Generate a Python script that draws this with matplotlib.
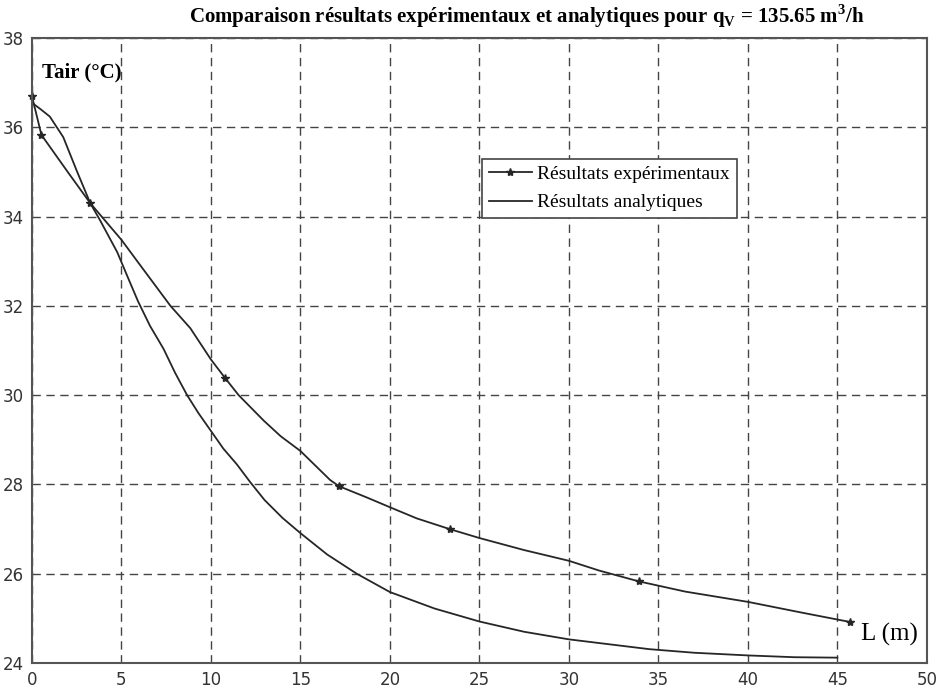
import matplotlib
matplotlib.use('Agg')
import matplotlib.pyplot as plt

# Experimental measurements (markers)
L_exp = [0.0, 0.53, 3.26, 10.8, 17.16, 23.34, 33.9, 45.7]
T_exp = [36.7, 35.83, 34.3, 30.38, 27.96, 27.0, 25.83, 24.92]

# Experimental curve as traced on the original figure
L_exp_curve = [0.0, 0.53, 2.0, 3.26, 5.0, 6.07, 7.74, 8.85, 10.0, 10.8, 11.55,
               12.95, 13.9, 15.0, 16.66, 17.16, 18.7, 20.0, 21.5, 23.34, 25.0,
               27.5, 30.0, 31.7, 33.9, 36.5, 40.0, 43.0, 45.7]
T_exp_curve = [36.7, 35.83, 35.0, 34.3, 33.48, 32.9, 32.0, 31.5, 30.8, 30.38, 30.0,
               29.43, 29.08, 28.75, 28.1, 27.96, 27.71, 27.49, 27.24, 27.0, 26.8,
               26.53, 26.29, 26.07, 25.83, 25.6, 25.37, 25.13, 24.92]

# Analytical curve
L_ana = [0.0, 0.5, 1.0, 1.75, 2.5, 3.26, 3.83, 4.77, 5.4, 5.93, 6.6, 7.35, 8.0,
         8.67, 9.3, 10.0, 10.7, 11.45, 12.2, 13.0, 14.0, 15.0, 16.5, 18.15, 20.0,
         22.5, 25.0, 27.5, 30.0, 34.5, 37.0, 40.0, 42.6, 45.0]
T_ana = [36.55, 36.4, 36.24, 35.78, 35.03, 34.3, 33.9, 33.2, 32.6, 32.1, 31.55, 31.04, 30.5,
         30.0, 29.6, 29.2, 28.8, 28.45, 28.05, 27.65, 27.25, 26.91, 26.43, 26.0, 25.59,
         25.22, 24.93, 24.7, 24.53, 24.31, 24.23, 24.17, 24.13, 24.12]

x_ticks = [0, 5, 10, 15, 20, 25, 30, 35, 40, 45, 50]
y_ticks = [24, 26, 28, 30, 32, 34, 36, 38]

serif = ['Liberation Serif', 'DejaVu Serif']
line_col = '#262626'

fig = plt.figure(figsize=(9.39, 6.91), dpi=100)
ax = fig.add_axes([0.034, 0.0405, 0.953, 0.9045])

ax.plot(L_exp_curve, T_exp_curve, color=line_col, lw=1.3)
ax.plot(L_exp, T_exp, linestyle='none', marker='*', ms=6, color=line_col, clip_on=False)
ax.plot(L_ana, T_ana, color=line_col, lw=1.3)

# legend proxies
h1, = ax.plot([], [], color=line_col, lw=1.3, marker='*', ms=6, label='Résultats expérimentaux')
h2, = ax.plot([], [], color=line_col, lw=1.3, label='Résultats analytiques')
leg = ax.legend(handles=[h1, h2], loc='upper left', bbox_to_anchor=(0.503, 0.807),
                prop={'family': serif, 'size': 14}, frameon=True, fancybox=False,
                edgecolor='#444444', framealpha=1, borderpad=0.35, labelspacing=0.55,
                handlelength=2.2, handletextpad=0.3, borderaxespad=0)
leg.get_frame().set_linewidth(1.2)

ax.set_xlim(0, 50)
ax.set_ylim(24, 38)
ax.set_xticks(x_ticks)
ax.set_yticks(y_ticks)
ax.tick_params(length=0, labelsize=12, labelcolor='#333333', pad=6)
ax.grid(True, color='#444444', linestyle=(0, (6, 4)), linewidth=1)
for s in ax.spines.values():
    s.set_color('#555555')
    s.set_linewidth(1.5)

ax.text(0.011, 0.945, 'Tair (°C)', transform=ax.transAxes, family=serif,
        fontweight='bold', fontsize=15, va='center', ha='left')
ax.text(0.926, 0.045, 'L (m)', transform=ax.transAxes, family=serif,
        fontsize=18, va='center', ha='left')

fig.text(0.561, 0.977, r'Comparaison résultats expérimentaux et analytiques pour q$_\mathregular{V}$ = 135.65 m$^\mathregular{3}$/h',
         family=serif, fontweight='bold', fontsize=15, ha='center', va='center')

fig.savefig('out.png', dpi=100)
